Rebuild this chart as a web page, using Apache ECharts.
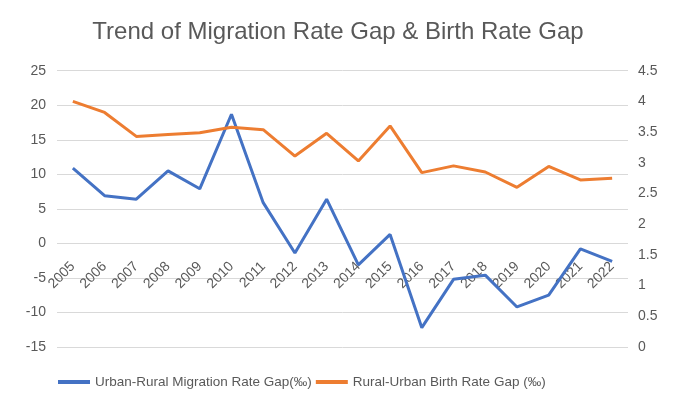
<!DOCTYPE html>
<html><head><meta charset="utf-8">
<script src="https://cdn.jsdelivr.net/npm/echarts@6/dist/echarts.min.js"></script>
<style>html,body{margin:0;padding:0;background:#fff}#c{width:676px;height:399px}</style>
</head><body><div id="c"></div>
<script>
const years = ['2005','2006','2007','2008','2009','2010','2011','2012','2013','2014','2015','2016','2017','2018','2019','2020','2021','2022'];
const migrationGap = [10.9, 6.9, 6.4, 10.5, 7.9, 18.7, 5.9, -1.4, 6.4, -3.1, 1.3, -12.2, -5.2, -4.6, -9.2, -7.5, -0.8, -2.6];
const birthGap = [4.0, 3.82, 3.43, 3.46, 3.49, 3.58, 3.54, 3.11, 3.48, 3.03, 3.6, 2.84, 2.95, 2.85, 2.6, 2.94, 2.72, 2.75];
const seriesNames = ['Urban-Rural Migration Rate Gap(‰)', 'Rural-Urban Birth Rate Gap (‰)'];
const titleText = 'Trend of Migration Rate Gap & Birth Rate Gap';

const FONT = '"Liberation Sans", Arial, Helvetica, sans-serif';
const chart = echarts.init(document.getElementById('c'), null, {renderer: 'canvas'});
chart.setOption({
  animation: false,
  textStyle: {fontFamily: FONT},
  title: {
    text: titleText, left: 'center', top: 15,
    textStyle: {fontFamily: FONT, fontSize: 24, fontWeight: 'normal', color: '#595959'}
  },
  legend: {
    left: 53, top: 370,
    itemWidth: 32, itemHeight: 4, itemGap: 4,
    icon: 'rect',
    textStyle: {fontFamily: FONT, fontSize: 13.5, color: '#595959'},
    data: seriesNames
  },
  grid: {left: 57, right: 48, top: 70.7, bottom: 52, containLabel: false},
  xAxis: {
    type: 'category', data: years, boundaryGap: true,
    offset: -103.7, z: 0,
    axisLine: {show: false, onZero: false},
    axisTick: {show: false},
    axisLabel: {rotate: 45, margin: 21, fontSize: 14, color: '#595959', fontFamily: FONT, interval: 0}
  },
  yAxis: [
    {
      type: 'value', min: -15, max: 25, interval: 5,
      axisLine: {show: false}, axisTick: {show: false},
      splitLine: {lineStyle: {color: '#d9d9d9', width: 1}},
      axisLabel: {fontSize: 14, color: '#595959', margin: 11, fontFamily: FONT}
    },
    {
      type: 'value', min: 0, max: 4.5, interval: 0.5,
      axisLine: {show: false}, axisTick: {show: false},
      splitLine: {show: false},
      axisLabel: {fontSize: 14, color: '#595959', margin: 10, fontFamily: FONT}
    }
  ],
  series: [
    {
      name: seriesNames[0], type: 'line', yAxisIndex: 0, data: migrationGap, z: 3,
      symbol: 'none', lineStyle: {color: '#4472C4', width: 3}, itemStyle: {color: '#4472C4'}
    },
    {
      name: seriesNames[1], type: 'line', yAxisIndex: 1, data: birthGap, z: 3,
      symbol: 'none', lineStyle: {color: '#ED7D31', width: 3}, itemStyle: {color: '#ED7D31'}
    }
  ]
});
</script></body></html>
